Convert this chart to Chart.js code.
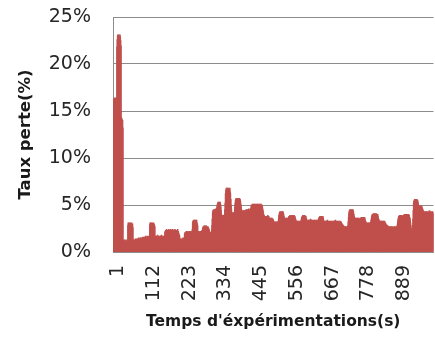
<!DOCTYPE html>
<html>
<head>
<meta charset="utf-8">
<script src="https://cdn.jsdelivr.net/npm/chart.js@4"></script>
<style>
  body { margin: 0; background: #fff; }
  #wrap { width: 435px; height: 342px; }
</style>
</head>
<body>
<div id="wrap"><canvas id="perteChart"></canvas></div>
<script>
// Taux de perte (%) relevé à chaque seconde de l'expérience
let tauxPerte = [
    15.9, 16.1, 16.3, 16.2, 16.0, 16.4, 16.3, 16.1, 16.2, 16.4, 16.0, 16.3,
    21.8, 22.6, 23.0, 23.1, 22.9, 23.1, 22.8, 23.0, 22.7, 23.1, 22.9, 22.5, 21.9,
    14.3, 14.1, 14.2, 13.9, 14.0, 13.2,
    1.1, 1.3, 0.9, 1.2, 1.0, 1.3, 1.1, 0.8, 1.2, 1.0, 1.3, 1.1, 0.9, 1.2, 1.0,
    2.8, 3.1, 2.9, 3.0, 3.1, 2.7, 3.0, 2.9, 3.1, 2.8, 3.0, 3.1, 2.9, 2.8, 3.0, 2.6,
    1.2, 1.1, 1.3, 1.2, 1.0, 1.3, 1.2, 1.4, 1.1, 1.3,
    1.2, 1.4, 1.3, 1.1, 1.4, 1.3, 1.2, 1.5, 1.3, 1.4,
    1.3, 1.2, 1.5, 1.4, 1.3, 1.5, 1.4, 1.2, 1.5, 1.4,
    1.6, 1.4, 1.5, 1.3, 1.6, 1.5, 1.4, 1.6, 1.5, 1.7,
    1.5, 1.4, 1.6, 1.5, 1.7, 1.6, 1.4, 1.6, 1.5, 1.7,
    1.6, 1.5,
    2.9, 3.1, 3.0, 2.8, 3.1, 3.0, 2.9, 3.1, 3.0, 2.8, 3.0, 3.1, 2.9, 3.0, 2.8, 2.7,
    1.6, 1.5, 1.7, 1.6, 1.4, 1.7, 1.5, 1.6, 1.8, 1.5, 1.6, 1.7, 1.5, 1.6, 1.4, 1.7,
    1.6, 1.5, 1.7, 1.6, 1.8, 1.5, 1.6, 1.7, 1.5, 1.6, 1.4, 1.7, 1.6, 1.5, 1.7,
    2.1, 2.2, 2.3, 2.0, 2.2, 2.4, 2.1, 2.3, 2.2, 2.0, 2.3, 2.2, 2.4, 2.1, 2.2, 2.3,
    2.0, 2.2, 2.4, 2.3, 2.1, 2.2, 2.3, 2.1, 2.4, 2.2, 2.0, 2.3, 2.2, 2.1, 2.3, 2.4,
    2.2, 2.1, 2.3, 2.2, 2.0, 2.3, 2.2, 2.4, 2.1, 2.2, 2.0, 1.9, 1.8, 1.7,
    1.3, 1.2, 1.4, 1.3, 1.1, 1.4, 1.3, 1.2, 1.4, 1.3, 1.5, 1.2, 1.4, 1.3, 1.5,
    1.9, 2.0, 2.1, 1.9, 2.0, 2.2, 2.0, 1.9, 2.1, 2.0, 2.2, 2.0, 1.8, 2.1, 2.0, 2.2,
    1.9, 2.1, 2.0, 2.2, 2.1, 1.9, 2.0, 2.2, 2.4,
    3.1, 3.3, 3.2, 3.4, 3.3, 3.1, 3.4, 3.3, 3.2, 3.4, 3.3, 3.2, 3.4, 3.1, 3.0, 2.8,
    2.2, 2.0, 2.1, 2.2, 1.9, 2.1, 2.0, 2.2, 2.1, 1.9, 2.2, 2.0, 2.1, 2.3, 2.2,
    2.5, 2.6, 2.7, 2.5, 2.6, 2.8, 2.6, 2.5, 2.7, 2.6, 2.8, 2.5, 2.6, 2.7, 2.6, 2.5,
    2.7, 2.6, 2.4, 2.5, 2.3, 2.2,
    2.0, 1.9, 2.1, 2.0, 1.8, 2.1, 2.3, 2.8, 3.5,
    4.2, 4.4, 4.3, 4.5, 4.4, 4.2, 4.5, 4.3, 4.4, 4.6, 4.3, 4.4, 4.5, 4.7, 4.9,
    5.1, 5.2, 5.3, 5.1, 5.2, 5.3, 5.2, 5.0, 5.3, 5.1, 4.8, 4.4, 4.0,
    3.8, 3.7, 3.9, 3.8, 3.6, 3.9, 3.8, 3.7, 3.9, 4.0, 4.5, 5.2,
    6.2, 6.5, 6.7, 6.8, 6.6, 6.8, 6.7, 6.5, 6.8, 6.6, 6.7, 6.5, 6.6, 6.8, 6.4, 6.2,
    5.6, 5.0, 4.6,
    4.2, 4.0, 4.1, 3.9, 4.2, 4.1, 4.0, 4.2, 4.1, 4.3, 4.8, 5.2,
    5.5, 5.6, 5.7, 5.5, 5.6, 5.7, 5.6, 5.5, 5.7, 5.6, 5.4, 5.6, 5.7, 5.5, 5.6, 5.4,
    5.1, 4.8, 4.5,
    4.3, 4.2, 4.4, 4.3, 4.1, 4.4, 4.3, 4.2, 4.4, 4.3, 4.2, 4.4,
    4.4, 4.3, 4.5, 4.4, 4.2, 4.5, 4.4, 4.3, 4.5, 4.4, 4.6, 4.3, 4.4, 4.5, 4.3, 4.4,
    4.6, 4.7, 4.9,
    5.0, 4.9, 5.1, 5.0, 4.9, 5.0, 5.1, 4.8, 5.0, 5.1, 4.9, 5.0, 5.1, 5.0, 4.8, 5.0,
    5.1, 4.9, 5.0, 5.1, 5.0, 4.9, 5.1, 5.0, 4.8, 5.0, 5.1, 4.9, 5.0, 5.1, 5.0, 4.9,
    5.0, 4.8, 4.6, 4.4, 4.2, 4.0, 3.9, 3.8,
    3.7, 3.6, 3.8, 3.7, 3.5, 3.8, 3.7, 3.6, 3.8, 3.7, 3.9, 3.6, 3.7, 3.8, 3.6,
    3.5, 3.4, 3.6, 3.5, 3.3, 3.6, 3.5, 3.4, 3.6, 3.5, 3.3, 3.5, 3.4, 3.3, 3.2, 3.1,
    3.1, 3.0, 3.2, 3.1, 2.9, 3.2, 3.1, 3.0, 3.2, 3.1, 3.0, 3.2, 3.3, 3.6, 3.9,
    4.1, 4.2, 4.3, 4.1, 4.2, 4.3, 4.2, 4.0, 4.3, 4.2, 4.1, 4.3, 4.2, 4.0, 3.8, 3.6,
    3.5, 3.4, 3.6, 3.5, 3.3, 3.6, 3.5, 3.4, 3.6, 3.5, 3.4, 3.5, 3.6, 3.7, 3.8,
    3.8, 3.7, 3.9, 3.8, 3.6, 3.9, 3.8, 3.7, 3.9, 3.8, 3.7, 3.9, 3.8, 3.6, 3.8, 3.9,
    3.7, 3.8, 3.6, 3.5, 3.4, 3.3,
    3.2, 3.1, 3.3, 3.2, 3.0, 3.3, 3.2, 3.1, 3.3, 3.2, 3.0, 3.2, 3.1, 3.3, 3.2, 3.4,
    3.6, 3.7,
    3.8, 3.7, 3.9, 3.8, 3.6, 3.9, 3.8, 3.7, 3.9, 3.8, 3.7, 3.8, 3.6, 3.5, 3.4, 3.3,
    3.3, 3.2, 3.4, 3.3, 3.1, 3.4, 3.3, 3.2, 3.4, 3.3, 3.5, 3.2, 3.3, 3.4, 3.2, 3.1,
    3.3, 3.4, 3.2, 3.3, 3.1, 3.4, 3.3, 3.2, 3.4, 3.3, 3.1, 3.2, 3.4, 3.3, 3.2, 3.4,
    3.3, 3.2, 3.4, 3.5, 3.6,
    3.7, 3.6, 3.8, 3.7, 3.5, 3.8, 3.7, 3.6, 3.8, 3.7, 3.6, 3.8, 3.6, 3.4, 3.3,
    3.2, 3.1, 3.3, 3.2, 3.0, 3.3, 3.2, 3.1, 3.3, 3.2, 3.4, 3.1, 3.2, 3.3, 3.1, 3.0,
    3.2, 3.3, 3.1, 3.2, 3.0, 3.3, 3.2, 3.1, 3.3, 3.2, 3.0, 3.1, 3.3, 3.2, 3.1, 3.3,
    3.2, 3.1, 3.3, 3.4, 3.2, 3.1, 3.3, 3.2, 3.0, 3.2, 3.3, 3.1, 3.2, 3.0, 3.3, 3.2,
    3.1, 3.3, 3.2, 3.0, 3.1, 3.2, 3.0, 2.9, 3.0, 2.8, 2.9, 2.7, 2.8, 2.7,
    2.6, 2.5, 2.7, 2.6, 2.4, 2.7, 2.6, 2.5, 2.7, 2.6, 2.5, 2.6, 2.8, 3.2, 3.7, 4.1,
    4.3, 4.4, 4.5, 4.3, 4.4, 4.5, 4.4, 4.2, 4.5, 4.4, 4.3, 4.5, 4.4, 4.2, 4.0, 3.8,
    3.7, 3.6,
    3.5, 3.4, 3.6, 3.5, 3.3, 3.6, 3.5, 3.4, 3.6, 3.5, 3.4, 3.6, 3.5, 3.3, 3.4, 3.5,
    3.6, 3.5,
    3.6, 3.5, 3.7, 3.6, 3.4, 3.7, 3.6, 3.5, 3.7, 3.6, 3.5, 3.7, 3.6, 3.4, 3.3, 3.2,
    3.1, 3.1, 3.0,
    3.0, 2.9, 3.1, 3.0, 2.8, 3.1, 3.0, 2.9, 3.1, 3.0, 2.9, 3.1, 3.2, 3.4, 3.6, 3.8,
    3.9, 4.0,
    4.0, 3.9, 4.1, 4.0, 3.8, 4.1, 4.0, 3.9, 4.1, 4.0, 3.9, 4.1, 4.0, 3.8, 3.9, 4.0,
    3.8, 3.6, 3.5, 3.4, 3.3, 3.2, 3.3, 3.2, 3.3,
    3.2, 3.1, 3.3, 3.2, 3.0, 3.3, 3.2, 3.1, 3.3, 3.2, 3.1, 3.3, 3.2, 3.0, 3.1, 3.0,
    2.9, 2.8, 2.9, 2.8, 2.7, 2.8, 2.7, 2.6, 2.7,
    2.6, 2.5, 2.7, 2.6, 2.4, 2.7, 2.6, 2.5, 2.7, 2.6, 2.5, 2.7, 2.6, 2.4, 2.6, 2.5,
    2.7, 2.6, 2.5, 2.7, 2.6, 2.4, 2.6, 2.7, 2.5, 2.6, 2.8, 3.0, 3.3, 3.5, 3.7,
    3.8, 3.7, 3.9, 3.8, 3.6, 3.9, 3.8, 3.7, 3.9, 3.8, 3.7, 3.8, 3.7, 3.9, 3.8,
    3.9, 3.8, 4.0, 3.9, 3.7, 4.0, 3.9, 3.8, 4.0, 3.9, 3.8, 4.0, 3.9, 3.7, 3.9, 4.0,
    3.8, 3.9, 3.7, 3.6, 3.4, 3.1, 2.8, 2.5, 2.3, 2.2, 2.3, 2.4, 2.8, 3.5, 4.4,
    5.2, 5.4, 5.5, 5.6, 5.5, 5.4, 5.6, 5.5, 5.3, 5.5, 5.6, 5.4, 5.5, 5.3, 5.1, 4.9,
    4.8, 4.7, 4.9, 4.8, 4.6, 4.9, 4.8, 4.7, 4.9, 4.8, 4.7, 4.6, 4.5, 4.4, 4.3,
    4.2, 4.1, 4.3, 4.2, 4.0, 4.3, 4.2, 4.1, 4.3, 4.2, 4.1, 4.3, 4.2, 4.0, 4.2, 4.3,
    4.1, 4.2, 4.4, 4.2, 4.1, 4.3, 4.2, 4.0, 4.2, 4.3, 4.1, 4.2, 4.3, 4.1, 4.2
];

// Secondes : 1, 2, 3, ...
let secondes = tauxPerte.map((v, i) => String(i + 1));

// Graduations affichées sous l'axe des temps
let etiquettesTemps = ['1', '112', '223', '334', '445', '556', '667', '778', '889'];

// Graduations de l'axe vertical (%)
let graduationsPerte = [0, 5, 10, 15, 20, 25];

let policeTicks = { family: 'DejaVu Sans', size: 19 };
let gris = '#8c8c8c';

let ctx = document.getElementById('perteChart').getContext('2d');
let perteChart = new Chart(ctx, {
    type: 'bar',
    data: {
        labels: secondes,
        datasets: [{
            label: 'Taux perte',
            data: tauxPerte,
            backgroundColor: '#C0504D',
            borderWidth: 0,
            barThickness: 1,
            categoryPercentage: 1,
            barPercentage: 1
        }]
    },
    options: {
        responsive: true,
        maintainAspectRatio: false,
        animation: false,
        devicePixelRatio: 1,
        layout: { padding: { left: 16, top: 17, right: 0, bottom: 11 } },
        plugins: {
            legend: { display: false },
            tooltip: { enabled: false }
        },
        scales: {
            x: {
                afterFit: function (scale) { scale.height = 79; },
                grid: { display: false, drawTicks: false },
                border: { display: true, color: gris, width: 1 },
                ticks: {
                    autoSkip: false,
                    minRotation: 90,
                    maxRotation: 90,
                    padding: 13,
                    labelOffset: 5,
                    color: '#262626',
                    font: policeTicks,
                    callback: function (value, index) {
                        let s = secondes[index];
                        return etiquettesTemps.includes(s) ? s : null;
                    }
                },
                title: {
                    display: true,
                    text: "Temps d'éxpérimentations(s)",
                    color: '#1a1a1a',
                    font: { family: 'DejaVu Sans', size: 15.5, weight: 'bold' },
                    padding: { top: 0, bottom: 0 }
                }
            },
            y: {
                min: graduationsPerte[0],
                max: graduationsPerte[graduationsPerte.length - 1],
                // largeur fixe, et pas de marge verticale due au padding des graduations
                afterFit: function (scale) {
                    scale.width = 97;
                    scale.paddingTop = 12;
                    scale.paddingBottom = 12;
                },
                afterBuildTicks: function (scale) {
                    scale.ticks = graduationsPerte.map(v => ({ value: v }));
                },
                grid: { color: gris, lineWidth: 1, drawTicks: false },
                border: { display: true, color: gris, width: 1 },
                ticks: {
                    padding: 22,
                    color: '#262626',
                    font: policeTicks,
                    callback: v => v + '%'
                },
                title: {
                    display: true,
                    text: 'Taux perte(%)',
                    color: '#1a1a1a',
                    font: { family: 'DejaVu Sans', size: 16.5, weight: 'bold' },
                    padding: { top: 0, bottom: 0 }
                }
            }
        }
    }
});
</script>
</body>
</html>
